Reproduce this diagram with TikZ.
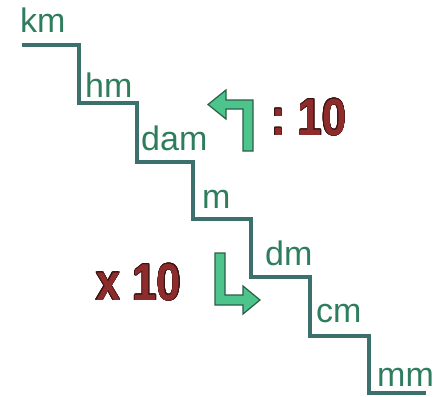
\documentclass[tikz,border=0pt]{standalone}
\usepackage{fontspec}
\setmainfont{Liberation Sans}
\usepackage{contour}
\contourlength{0.7pt}
\definecolor{stair}{HTML}{3B706C}
\definecolor{lbl}{HTML}{2E7D5C}
\definecolor{arrfill}{HTML}{4DC48C}
\definecolor{arrline}{HTML}{2A5E46}
\definecolor{redtxt}{HTML}{8E2B2B}
\definecolor{redline}{HTML}{3A1414}
\tikzset{
  stairline/.style={draw=stair, line width=4.5pt, line join=miter},
  unitlbl/.style={anchor=base west, inner sep=0pt, text=lbl, font=\fontsize{34}{34}\selectfont},
  turnarrow/.style={fill=arrfill, draw=arrline, line width=1.2pt, line join=miter},
  factor/.style={anchor=base west, inner sep=0pt, font=\bfseries\fontsize{52}{52}\selectfont}
}
\newcommand{\redtext}[1]{\scalebox{0.84}[1]{\contour{redline}{\textcolor{redtxt}{#1}}}}
\begin{document}
\begin{tikzpicture}[x=1pt,y=-1pt]
\useasboundingbox (0,0) rectangle (436,396);
% staircase
\draw[stairline] (22,45) -- (79,45) -- (79,103) -- (137,103) -- (137,162) -- (193,162)
  -- (193,219) -- (251,219) -- (251,277) -- (310,277) -- (310,336) -- (369,336)
  -- (369,393) -- (426,393);
% unit labels
\node[unitlbl] (km) at (20,33) {km};
\node[unitlbl] (hm) at (85,97) {hm};
\node[unitlbl] (dam) at (141,150) {dam};
\node[unitlbl] (m) at (202,208) {m};
\node[unitlbl] (dm) at (265,265) {dm};
\node[unitlbl] (cm) at (316,322) {cm};
\node[unitlbl] (mm) at (377,386) {mm};
% upper arrow (divide)
\draw[turnarrow] (243,151) -- (253,151) -- (253,100) -- (226,100) -- (226,90) -- (208,104.5)
  -- (226,119) -- (226,109) -- (243,109) -- cycle;
% lower arrow (multiply)
\draw[turnarrow] (215,253) -- (225,253) -- (225,295) -- (243,295) -- (243,286) -- (260,300)
  -- (243,314) -- (243,305) -- (215,305) -- cycle;
% factors
\node[factor] (div) at (271,135) {\redtext{:\hspace{0.28em}10}};
\node[factor] (mul) at (96,300) {\redtext{x 10}};
\end{tikzpicture}
\end{document}
